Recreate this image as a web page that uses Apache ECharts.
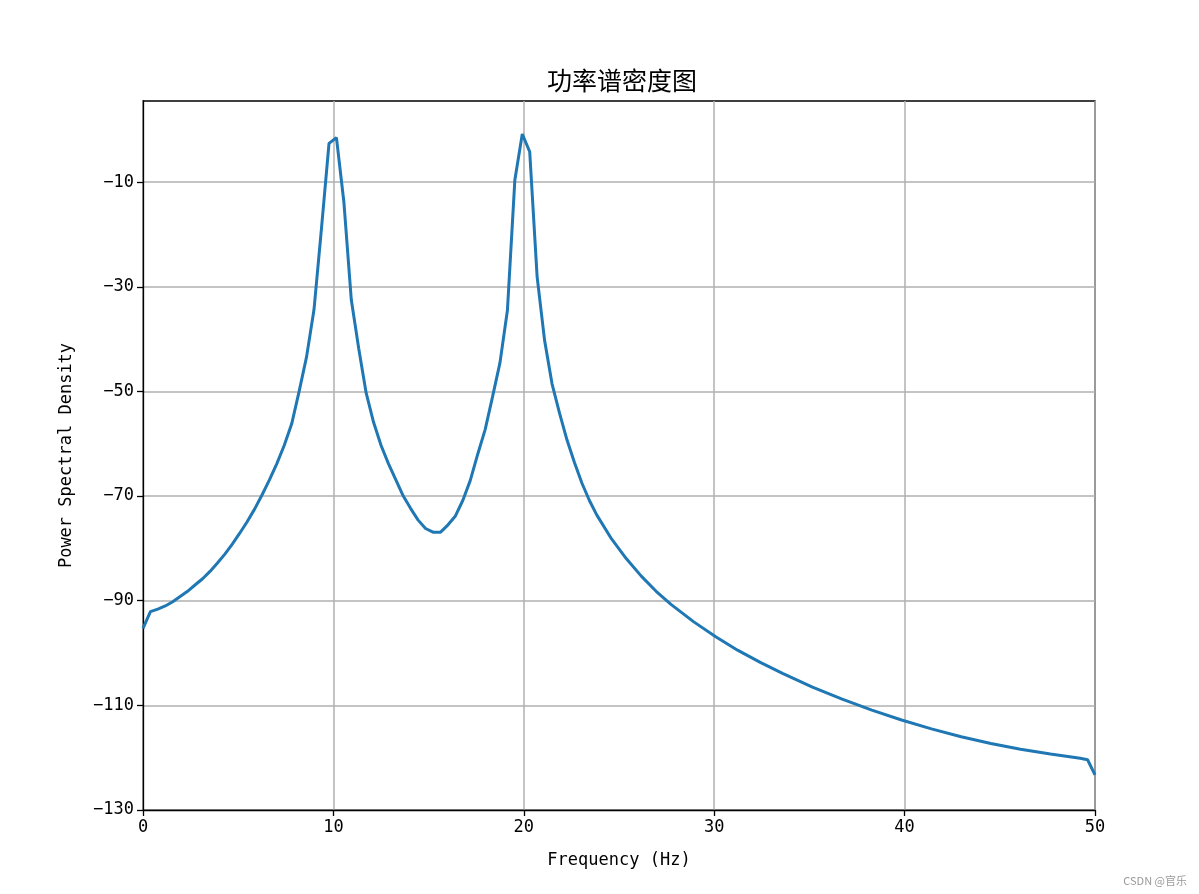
<!DOCTYPE html>
<html>
<head>
<meta charset="utf-8">
<title>功率谱密度图</title>
<script src="https://cdn.jsdelivr.net/npm/echarts@6/dist/echarts.min.js"></script>
<style>
  html, body { margin: 0; padding: 0; background: #fff; }
  #psd { width: 1199px; height: 894px; }
</style>
</head>
<body>
<div id="psd"></div>
<script>
// frequency samples (Hz)
var freqs = [
  0, 0.39, 0.78, 1.17, 1.56, 1.95, 2.34, 2.73, 3.13, 3.52, 3.91, 4.30, 4.69, 5.08, 5.47, 5.86,
  6.25, 6.64, 7.03, 7.42, 7.81, 8.20, 8.59, 8.98, 9.38, 9.77, 10.16, 10.55, 10.94, 11.33, 11.72,
  12.11, 12.50, 12.89, 13.28, 13.67, 14.06, 14.45, 14.84, 15.23, 15.63, 16.02, 16.41, 16.80,
  17.19, 17.58, 17.97, 18.36, 18.75, 19.14, 19.53, 19.92, 20.31, 20.70, 21.09, 21.48, 21.88,
  22.27, 22.66, 23.05, 23.44, 23.83, 24.61, 25.39, 26.17, 26.95, 27.73, 28.91, 30.08, 31.25,
  32.42, 33.59, 35.16, 36.72, 38.28, 39.84, 41.41, 42.97, 44.53, 46.09, 47.66, 49.22, 49.61, 50
]
// power spectral density (dB)
var psd = [
  -95.3, -92.1, -91.6, -91.0, -90.2, -89.2, -88.2, -87.0, -85.8, -84.4, -82.8, -81.1, -79.2, -77.1, -74.9, -72.5,
  -69.8, -66.9, -63.8, -60.3, -56.2, -50.0, -43.4, -34.4, -18.6, -2.6, -1.5, -13.8, -32.5, -41.8, -50.3,
  -55.9, -60.3, -63.8, -66.9, -70.0, -72.4, -74.6, -76.2, -76.9, -76.9, -75.5, -73.8, -70.8,
  -67.0, -62.0, -57.3, -51.0, -44.5, -34.5, -9.6, -0.8, -4.2, -28.1, -40.2, -48.5, -54.2,
  -59.3, -63.6, -67.5, -70.8, -73.6, -78.2, -82.0, -85.3, -88.2, -90.7, -94.0, -96.9, -99.5,
  -101.8, -103.9, -106.5, -108.8, -110.9, -112.8, -114.5, -116.0, -117.3, -118.4, -119.3, -120.1, -120.4, -123.3
]
var yTicks = [-130, -110, -90, -70, -50, -30, -10]

var monoFont = '"DejaVu Sans Mono", monospace'
var myChart = echarts.init(document.getElementById('psd'))
var seriesData = freqs.map(function (f, i) { return [f, psd[i]] })

var option = {
  animation: false,
  title: {
    text: '功率谱密度图',
    left: 617,
    top: 63,
    textAlign: 'center',
    textStyle: {
      fontFamily: '"Noto Sans CJK SC", sans-serif',
      fontSize: 25,
      fontWeight: 'normal',
      color: '#000'
    }
  },
  grid: {
    left: 143,
    right: 104,
    top: 101,
    bottom: 84,
    show: true,
    borderColor: '#000',
    borderWidth: 1.3,
    backgroundColor: 'transparent'
  },
  xAxis: {
    type: 'value',
    min: 0,
    max: 50,
    interval: 10,
    name: 'Frequency (Hz)',
    nameLocation: 'middle',
    nameGap: 42,
    nameTextStyle: { fontFamily: monoFont, fontSize: 17, color: '#000' },
    axisLine: { show: true, onZero: false, lineStyle: { color: '#000', width: 1.3 } },
    axisTick: { show: true, inside: false, length: 6, lineStyle: { color: '#000', width: 1.3 } },
    axisLabel: { fontFamily: monoFont, fontSize: 17, color: '#000', margin: 9 },
    splitLine: { show: true, lineStyle: { color: '#b0b0b0', width: 1.5 } }
  },
  yAxis: {
    type: 'value',
    min: -130,
    max: 5.5,
    name: 'Power Spectral Density',
    nameLocation: 'middle',
    nameGap: 68,
    nameRotate: 90,
    nameTextStyle: { fontFamily: monoFont, fontSize: 17, color: '#000' },
    axisLine: { show: true, lineStyle: { color: '#000', width: 1.3 } },
    axisTick: { show: true, inside: false, length: 6, customValues: yTicks, lineStyle: { color: '#000', width: 1.3 } },
    axisLabel: {
      fontFamily: monoFont,
      fontSize: 17,
      color: '#000',
      margin: 9,
      customValues: yTicks,
      formatter: function (v) { return String(v).replace('-', '\u2212') }
    },
    splitLine: { show: true, lineStyle: { color: '#b0b0b0', width: 1.5 } }
  },
  series: [
    {
      type: 'line',
      data: seriesData,
      showSymbol: false,
      smooth: false,
      lineStyle: { color: '#1f77b4', width: 3 },
      z: 5
    }
  ],
  graphic: [
    {
      type: 'text',
      right: 12,
      bottom: 8,
      style: {
        text: 'CSDN @官乐',
        fill: '#999',
        fontSize: 11,
        fontFamily: '"Noto Sans CJK SC", sans-serif'
      }
    }
  ]
}
myChart.setOption(option)
</script>
</body>
</html>
